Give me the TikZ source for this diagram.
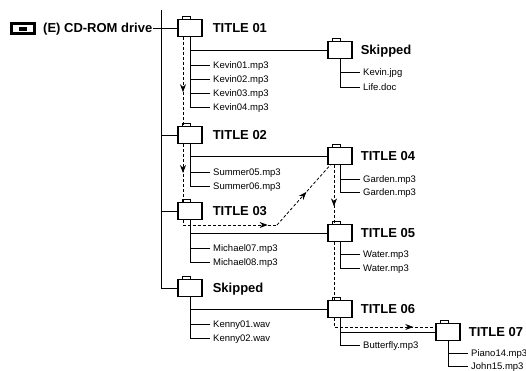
\documentclass[tikz,border=0pt]{standalone}
\usepackage{fontspec}
\setmainfont{Liberation Sans}
\usetikzlibrary{decorations.markings,arrows.meta}
\begin{document}
\begin{tikzpicture}[x=1pt,y=-1pt,
  line/.style={line width=0.9pt},
  folder/.style={draw,line width=1.2pt,fill=white,minimum width=24pt,minimum height=16.5pt,inner sep=0pt},
  ftitle/.style={anchor=west,inner sep=0pt,text height=9.3pt,text depth=0pt,font=\fontsize{13}{13}\selectfont\bfseries},
  file/.style={anchor=west,inner xsep=3pt,inner ysep=0pt,text height=6.8pt,text depth=0pt,font=\fontsize{9.5}{9.5}\selectfont},
  flow/.style={line width=0.8pt,dash pattern=on 3pt off 2pt},
  midarrow/.style={postaction={decorate},decoration={markings,mark=at position #1 with {\arrow{Stealth[length=8pt,width=6pt]}}}},
]
\useasboundingbox (0,0) rectangle (526,370);

% drive
\node[draw,line width=2.6pt,minimum width=23.5pt,minimum height=10.5pt,inner sep=0pt] (drive) at (23,28.5) {};
\node[fill,minimum width=8pt,minimum height=4pt,inner sep=0pt] (drivein) at (drive) {};
\node[ftitle] (drivel) at (43,28) {(E) CD-ROM drive};

% folders
\node[folder] (t1) at (190,28) {};
\node[folder] (t2) at (190,135) {};
\node[folder] (t3) at (190,211) {};
\node[folder] (sk) at (190,288) {};
\node[folder] (sk1) at (340,50) {};
\node[folder] (t4) at (340,156) {};
\node[folder] (t5) at (340,233) {};
\node[folder] (t6) at (340,309) {};
\node[folder] (t7) at (448,332) {};
\foreach \n in {t1,t2,t3,sk,sk1,t4,t5,t6,t7}
  \draw[line width=0.8pt,fill=white] ([xshift=5pt]\n.north west) rectangle ++(8pt,2.5pt);

% folder labels
\node[ftitle] (t1l) at ([xshift=10pt]t1.east) {TITLE 01};
\node[ftitle] (t2l) at ([xshift=10pt]t2.east) {TITLE 02};
\node[ftitle] (t3l) at ([xshift=10pt]t3.east) {TITLE 03};
\node[ftitle] (skl) at ([xshift=10pt]sk.east) {Skipped};
\node[ftitle] (sk1l) at ([xshift=8pt]sk1.east) {Skipped};
\node[ftitle] (t4l) at ([xshift=8pt]t4.east) {TITLE 04};
\node[ftitle] (t5l) at ([xshift=8pt]t5.east) {TITLE 05};
\node[ftitle] (t6l) at ([xshift=8pt]t6.east) {TITLE 06};
\node[ftitle] (t7l) at ([xshift=8pt]t7.east) {TITLE 07};

% files
\node[file] (k1) at (210,65) {Kevin01.mp3};
\node[file] (k2) at (210,79) {Kevin02.mp3};
\node[file] (k3) at (210,93) {Kevin03.mp3};
\node[file] (k4) at (210,107) {Kevin04.mp3};
\node[file] (kj) at (360,72) {Kevin.jpg};
\node[file] (ld) at (360,87) {Life.doc};
\node[file] (s5) at (210,172) {Summer05.mp3};
\node[file] (s6) at (210,186) {Summer06.mp3};
\node[file] (g1) at (360,179) {Garden.mp3};
\node[file] (g2) at (360,192) {Garden.mp3};
\node[file] (m7) at (210,248) {Michael07.mp3};
\node[file] (m8) at (210,262) {Michael08.mp3};
\node[file] (w1) at (360,254) {Water.mp3};
\node[file] (w2) at (360,268) {Water.mp3};
\node[file] (kw1) at (210,324) {Kenny01.wav};
\node[file] (kw2) at (210,338) {Kenny02.wav};
\node[file] (bf) at (360,345) {Butterfly.mp3};
\node[file] (p14) at (468,353) {Piano14.mp3};
\node[file] (j15) at (468,366) {John15.mp3};

% main trunk
\coordinate (top) at (161,10);
\draw[line] ([xshift=1pt]drivel.east) -- (t1.west);
\draw[line] (top) |- (sk.west);
\draw[line] (t2.west) -- (t2.west -| top);
\draw[line] (t3.west) -- (t3.west -| top);

% TITLE 01
\draw[line] (t1.south) |- (k4.west);
\foreach \f in {sk1,k1,k2,k3} \draw[line] (\f.west) -- (\f.west -| t1.south);
\draw[line] (sk1.south) |- (ld.west);
\draw[line] (kj.west) -- (kj.west -| sk1.south);
% TITLE 02
\draw[line] (t2.south) |- (s6.west);
\foreach \f in {t4,s5} \draw[line] (\f.west) -- (\f.west -| t2.south);
\draw[line] (t4.south) |- (g2.west);
\draw[line] (g1.west) -- (g1.west -| t4.south);
% TITLE 03
\draw[line] (t3.south) |- (m8.west);
\foreach \f in {t5,m7} \draw[line] (\f.west) -- (\f.west -| t3.south);
\draw[line] (t5.south) |- (w2.west);
\draw[line] (w1.west) -- (w1.west -| t5.south);
% Skipped
\draw[line] (sk.south) |- (kw2.west);
\foreach \f in {t6,kw1} \draw[line] (\f.west) -- (\f.west -| sk.south);
\draw[line] (t6.south) |- (bf.west);
\draw[line] (t7.west) -- (t7.west -| t6.south);
\draw[line] (t7.south) |- (j15.west);
\draw[line] (p14.west) -- (p14.west -| t7.south);

% playback order
\coordinate (c3) at (183,225);
\coordinate (c3b) at (277,225);
\draw[flow,midarrow=0.62] ([xshift=-7pt]t1.south) -- ([xshift=-7pt]t2.north);
\draw[flow,midarrow=0.5] ([xshift=-7pt]t2.south) -- ([xshift=-7pt]t3.north);
\draw[flow] ([xshift=-7pt]t3.south) -- (c3);
\draw[flow,midarrow=0.9] (c3) -- (c3b);
\draw[flow,midarrow=0.55] (c3b) -- ([xshift=3pt]t4.south west);
\draw[flow,midarrow=0.7] ([xshift=-6pt]t4.south) -- ([xshift=-6pt]t5.north);
\draw[flow] ([xshift=-6pt]t5.south) -- ([xshift=-6pt]t6.north);
\draw[flow,midarrow=0.8] ([xshift=-6pt]t6.south) |- ([yshift=5pt]t7.west);
\end{tikzpicture}
\end{document}
